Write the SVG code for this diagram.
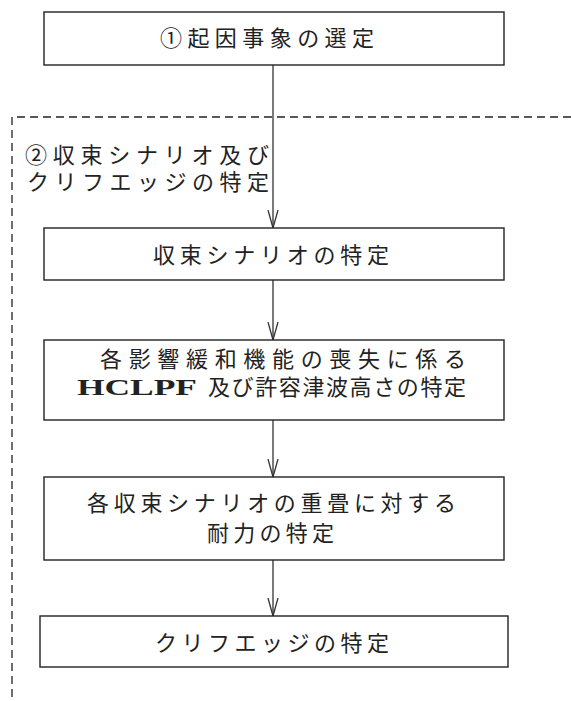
<svg xmlns="http://www.w3.org/2000/svg" width="571" height="701" viewBox="0 0 571 701">
<style>
.box{fill:#fff;stroke:#222;stroke-width:1.4}
.t{font-family:"Liberation Serif","Noto Sans CJK JP",serif;font-size:22px;fill:#222}
.b{font-weight:bold;font-size:24px}
.ln{stroke:#333;stroke-width:1.3;fill:none}
</style>
<defs>
<marker id="ah" markerWidth="20" markerHeight="12" refX="18" refY="6" orient="auto" markerUnits="userSpaceOnUse" viewBox="0 0 20 12">
<path d="M0 1 L18 6 L0 11" fill="none" stroke="#333" stroke-width="1.3"/>
</marker>
</defs>
<rect width="571" height="701" fill="#fff"/>
<g id="group2">
<path d="M571 117 H12 V701" fill="none" stroke="#222" stroke-width="1.3" stroke-dasharray="8 5"/>
<text class="t" x="25" y="163" textLength="244" lengthAdjust="spacing">②収束シナリオ及び</text>
<text class="t" x="27" y="190" textLength="242" lengthAdjust="spacing">クリフエッジの特定</text>
</g>
<g id="connectors">
<line class="ln" x1="273" y1="65" x2="273" y2="228" marker-end="url(#ah)"/>
<line class="ln" x1="273" y1="280" x2="273" y2="340" marker-end="url(#ah)"/>
<line class="ln" x1="273" y1="420" x2="273" y2="477" marker-end="url(#ah)"/>
<line class="ln" x1="273" y1="560" x2="273" y2="616" marker-end="url(#ah)"/>
</g>
<g id="n1">
<rect class="box" x="44" y="12" width="460" height="53"/>
<text class="t" x="160" y="46" textLength="214" lengthAdjust="spacing">①起因事象の選定</text>
</g>
<g id="n2">
<rect class="box" x="44" y="228" width="460" height="52"/>
<text class="t" x="153" y="263" textLength="236" lengthAdjust="spacing">収束シナリオの特定</text>
</g>
<g id="n3">
<rect class="box" x="44" y="340" width="460" height="80"/>
<text class="t" x="100" y="367" textLength="366" lengthAdjust="spacing">各影響緩和機能の喪失に係る</text>
<text class="t b" x="77" y="395" textLength="120" lengthAdjust="spacingAndGlyphs">HCLPF</text>
<text class="t" x="208" y="395" textLength="258" lengthAdjust="spacing">及び許容津波高さの特定</text>
</g>
<g id="n4">
<rect class="box" x="44" y="477" width="460" height="83"/>
<text class="t" x="87" y="511" textLength="369" lengthAdjust="spacing">各収束シナリオの重畳に対する</text>
<text class="t" x="207" y="541" textLength="127" lengthAdjust="spacing">耐力の特定</text>
</g>
<g id="n5">
<rect class="box" x="40" y="616" width="468" height="51"/>
<text class="t" x="155" y="651" textLength="234" lengthAdjust="spacing">クリフエッジの特定</text>
</g>
</svg>
